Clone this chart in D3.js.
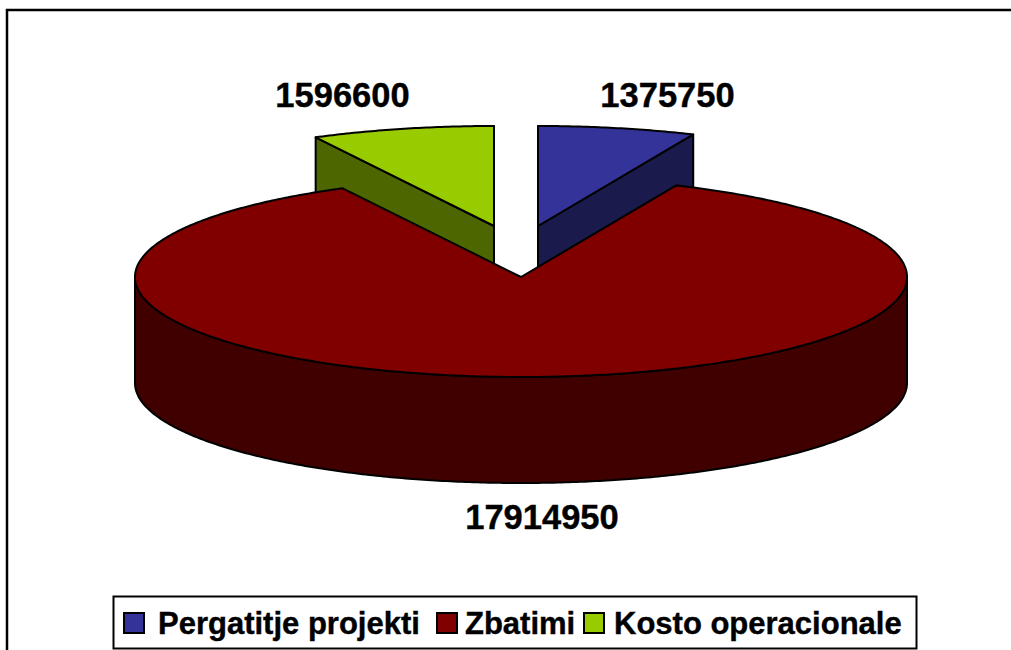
<!DOCTYPE html>
<html>
<head>
<meta charset="utf-8">
<script src="https://cdn.jsdelivr.net/npm/d3@7"></script>
<style>
  html, body { margin: 0; padding: 0; background: #fff; overflow: hidden; }
  svg { display: block; }
  text { font-family: "Liberation Sans", Arial, sans-serif; font-weight: bold; fill: #000; stroke: #000; stroke-width: 0.4px; }
</style>
</head>
<body>
<div id="chart"></div>
<script>
var categories = ["Pergatitje projekti", "Zbatimi", "Kosto operacionale"];
var values = [1375750, 17914950, 1596600];
var topColors = ["#333399", "#800000", "#99cc00"];
var sideColors = ["#1a1a4d", "#400000", "#4d6600"];

var width = 1011,
  height = 650,
  cx = 521,
  cy = 277,
  rx = 386,
  ry = 100,
  depth = 106;

// how far each slice is pulled out of the pie, and where its label sits
var explode = [[17, -51], [0, 0], [-27, -51]];
var labelPos = [[667.5, 107], [542, 529], [342.5, 107]];
var legendSwatch = [124, 437, 584];
var legendText = [158, 465, 614];

var svg = d3.select("#chart")
  .append("svg")
  .attr("width", width)
  .attr("height", height);

// frame runs off the right and bottom of the picture
svg.append("rect")
  .attr("x", 7)
  .attr("y", 10)
  .attr("width", width + 50)
  .attr("height", height + 50)
  .style("fill", "#fff")
  .style("stroke", "#000")
  .style("stroke-width", 2.5);

var arcs = d3.pie().sort(null).value(function (d) { return d; })(values);
var line = d3.line();

// point on the tilted rim, angle clockwise from the back of the pie
function rim(a) {
  return [rx * Math.sin(a), -ry * Math.cos(a)];
}

function rimPoints(a0, a1) {
  var n = Math.ceil(Math.abs(a1 - a0) / 0.01);
  return d3.range(n + 1).map(function (i) {
    return rim(a0 + (a1 - a0) * i / n);
  });
}

function drop(points) {
  return points.map(function (p) { return [p[0], p[1] + depth]; });
}

function wall(points) {
  return line(points.concat(drop(points).reverse())) + "Z";
}

function sliceGroup(i) {
  return svg.append("g")
    .attr("transform", "translate(" + (cx + explode[i][0]) + "," + (cy + explode[i][1]) + ")")
    .style("stroke", "#000")
    .style("stroke-width", 2)
    .style("stroke-linejoin", "round");
}

// small slices first, the big one covers their lower part
[0, 2, 1].forEach(function (i) {
  var d = arcs[i];
  var g = sliceGroup(i);

  if (i == 0) {
    g.append("path")
      .attr("d", wall([[0, 0], rim(d.endAngle)]))
      .style("fill", sideColors[i]);
    g.append("path")
      .attr("d", wall([[0, 0], rim(d.startAngle)]))
      .style("fill", sideColors[i]);
  }
  if (i == 2) {
    g.append("path")
      .attr("d", wall([[0, 0], rim(d.startAngle)]))
      .style("fill", sideColors[i]);
    g.append("path")
      .attr("d", wall([[0, 0], rim(d.endAngle)]))
      .style("fill", sideColors[i]);
  }
  if (i == 1) {
    g.append("path")
      .attr("d", wall(rimPoints(Math.PI / 2, Math.PI * 1.5)))
      .style("fill", sideColors[i]);
  }

  g.append("path")
    .attr("d", line([[0, 0]].concat(rimPoints(d.startAngle, d.endAngle))) + "Z")
    .style("fill", topColors[i]);
});

svg.selectAll(".value-label")
  .data(values)
  .enter()
  .append("text")
  .attr("class", "value-label")
  .attr("x", function (d, i) { return labelPos[i][0]; })
  .attr("y", function (d, i) { return labelPos[i][1]; })
  .attr("text-anchor", "middle")
  .style("font-size", "34.5px")
  .text(function (d) { return d; });

// legend
svg.append("rect")
  .attr("x", 113.5)
  .attr("y", 596.5)
  .attr("width", 803)
  .attr("height", 52)
  .style("fill", "#fff")
  .style("stroke", "#000")
  .style("stroke-width", 2);

svg.selectAll(".swatch")
  .data(categories)
  .enter()
  .append("rect")
  .attr("class", "swatch")
  .attr("x", function (d, i) { return legendSwatch[i]; })
  .attr("y", 613)
  .attr("width", 20)
  .attr("height", 20)
  .style("fill", function (d, i) { return topColors[i]; })
  .style("stroke", "#000")
  .style("stroke-width", 2);

svg.selectAll(".legend-label")
  .data(categories)
  .enter()
  .append("text")
  .attr("class", "legend-label")
  .attr("x", function (d, i) { return legendText[i]; })
  .attr("y", 634)
  .style("font-size", "31px")
  .text(function (d) { return d; });
</script>
</body>
</html>
